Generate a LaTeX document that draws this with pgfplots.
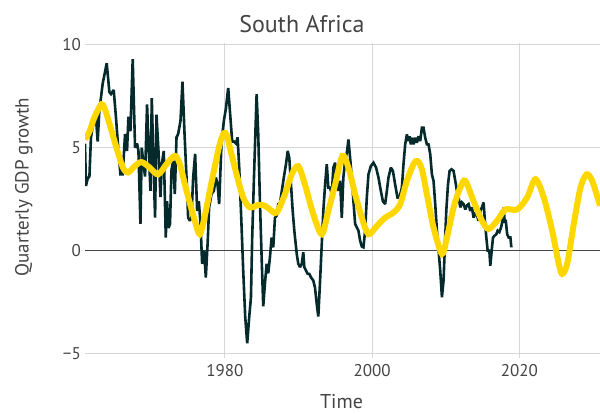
\documentclass[border=0pt]{standalone}
\usepackage{pgfplots}
\pgfplotsset{compat=1.18}
\usepackage{fontspec}
\setmainfont{PT Sans}
\definecolor{darkline}{HTML}{052A2C}
\definecolor{goldline}{HTML}{FFD700}
\definecolor{gridgray}{HTML}{D6D6D6}
\definecolor{txt}{HTML}{444444}
\begin{document}
\begin{tikzpicture}
\begin{axis}[
  name=main,
  scale only axis, width=515pt, height=315pt,
  xmin=1961, xmax=2030.95, ymin=-5.21, ymax=10.08,
  axis line style={draw=none},
  major tick length=0pt,
  xtick={1980,2000,2020}, xticklabels={1980,2000,2020},
  ytick={-5,5,10}, yticklabels={−5,5,10},
  extra y ticks={0}, extra y tick labels={0},
  extra y tick style={grid style={color=txt, line width=1.1pt}},
  grid=major, grid style={color=gridgray, line width=1.1pt},
  tick label style={font=\fontsize{17}{17}\selectfont, text=txt, inner sep=0pt},
  xticklabel style={anchor=north, yshift=-6.5pt},
  yticklabel style={anchor=east, xshift=-4pt},
  clip mode=individual,
]
\addplot[color=darkline, line width=2.6pt, line join=miter, miter limit=2] coordinates {
(1961.00,5.2) (1961.13,3.14) (1961.36,3.5) (1961.60,3.6) (1961.81,5.5) (1962.04,6.0) (1962.49,6.45) (1962.72,5.3) (1962.95,6.8) (1963.40,8.1) (1963.95,9.1) (1964.31,7.7) (1964.53,7.6) (1964.90,7.8) (1965.21,6.45) (1965.54,4.84) (1965.81,3.7) (1966.12,3.7) (1966.44,5.66) (1966.71,4.84) (1966.90,6.5) (1967.17,5.8) (1967.48,9.3) (1967.80,5.0) (1968.07,5.2) (1968.26,4.84) (1968.53,1.3) (1968.71,5.0) (1968.94,4.2) (1969.16,3.6) (1969.43,7.1) (1969.66,4.84) (1969.89,2.9) (1970.07,7.4) (1970.34,3.7) (1970.52,1.6) (1970.71,6.6) (1970.98,4.84) (1971.25,2.6) (1971.43,4.2) (1971.70,4.84) (1971.97,0.64) (1972.15,2.4) (1972.34,1.1) (1972.55,1.3) (1972.74,3.9) (1972.97,4.35) (1973.20,2.75) (1973.43,5.5) (1973.65,5.66) (1973.97,6.3) (1974.24,8.2) (1974.52,5.66) (1974.79,3.55) (1975.01,1.6) (1975.24,1.45) (1975.46,1.6) (1975.69,3.55) (1975.96,4.7) (1976.23,1.93) (1976.46,2.4) (1976.69,1.3) (1976.91,-0.64) (1977.18,0) (1977.41,-1.3) (1977.65,0.32) (1977.86,2.1) (1978.19,2.75) (1978.50,2.9) (1978.78,3.55) (1979.01,3.2) (1979.22,2.26) (1979.55,5.3) (1979.86,6.3) (1980.14,6.9) (1980.45,7.9) (1980.68,6.8) (1980.99,5.3) (1981.22,5.3) (1981.50,5.2) (1981.73,5.5) (1981.95,4.0) (1982.22,1.6) (1982.49,-0.97) (1982.76,-3.2) (1983.03,-4.5) (1983.31,-3.2) (1983.54,-2.26) (1983.71,0.64) (1983.95,3.55) (1984.31,7.6) (1984.53,5.66) (1984.76,2.4) (1984.99,-0.32) (1985.21,-2.7) (1985.44,-1.6) (1985.67,-0.64) (1985.89,-1.1) (1986.12,-0.32) (1986.35,0.64) (1986.57,0.16) (1986.80,1.6) (1987.03,1.7) (1987.25,2.26) (1987.48,2.3) (1987.80,3.06) (1988.07,3.7) (1988.30,4.2) (1988.53,4.84) (1988.75,4.5) (1988.98,3.2) (1989.21,1.93) (1989.43,0.97) (1989.76,-0.16) (1989.97,-0.64) (1990.20,-0.8) (1990.44,-0.64) (1990.65,-0.08) (1990.79,-0.8) (1991.02,-0.97) (1991.25,-1.13) (1991.47,-1.13) (1991.70,-1.3) (1992.01,-1.45) (1992.24,-1.8) (1992.48,-2.6) (1992.69,-3.2) (1992.93,-1.45) (1993.16,0.32) (1993.37,1.93) (1993.61,3.2) (1993.84,4.2) (1994.05,3.06) (1994.29,3.06) (1994.52,2.74) (1994.73,4.03) (1994.97,4.27) (1995.20,3.39) (1995.41,2.9) (1995.65,3.39) (1995.88,1.6) (1996.09,3.55) (1996.33,4.35) (1996.60,4.84) (1996.78,5.4) (1997.01,4.5) (1997.24,3.55) (1997.46,2.4) (1997.69,1.3) (1997.92,1.13) (1998.14,0.97) (1998.37,0.48) (1998.60,0.2) (1998.82,0.16) (1999.05,0.97) (1999.28,2.6) (1999.50,3.7) (1999.82,4.1) (2000.18,4.27) (2000.54,4.03) (2000.86,3.55) (2001.18,2.9) (2001.46,2.4) (2001.77,2.26) (2002.00,2.9) (2002.22,3.55) (2002.54,4.03) (2002.82,3.87) (2003.13,3.2) (2003.44,2.58) (2003.71,2.58) (2004.04,3.06) (2004.26,4.2) (2004.49,5.16) (2004.72,5.64) (2004.94,5.32) (2005.08,5.55) (2005.26,5.16) (2005.48,5.48) (2005.62,5.16) (2005.85,5.48) (2006.08,5.24) (2006.30,5.55) (2006.53,5.32) (2006.76,5.97) (2006.98,5.97) (2007.21,5.48) (2007.44,5.16) (2007.66,5.16) (2007.89,4.68) (2008.12,3.7) (2008.34,3.39) (2008.57,2.26) (2008.80,0.97) (2009.03,0) (2009.25,-0.97) (2009.48,-2.26) (2009.70,-1.45) (2009.89,0.32) (2010.07,1.93) (2010.30,3.2) (2010.52,3.87) (2010.79,3.95) (2011.06,3.87) (2011.29,3.39) (2011.52,2.9) (2011.75,2.58) (2011.97,2.1) (2012.20,2.34) (2012.42,2.26) (2012.65,2.0) (2012.88,2.2) (2013.10,2.26) (2013.33,1.93) (2013.56,2.1) (2013.78,1.6) (2014.01,1.85) (2014.24,1.7) (2014.46,1.45) (2014.69,1.93) (2014.92,2.1) (2015.14,2.34) (2015.28,1.6) (2015.51,0.64) (2015.69,0) (2015.92,0) (2016.05,-0.73) (2016.28,0.16) (2016.42,0.64) (2016.64,0.73) (2016.87,0.8) (2017.05,0.97) (2017.28,0.9) (2017.51,1.13) (2017.65,1.35) (2017.87,2.1) (2018.01,1.35) (2018.14,1.5) (2018.34,0.8) (2018.54,0.64) (2018.78,0.64) (2018.91,0.16)
};
\addplot[color=goldline, line width=6pt, smooth, tension=0.5] coordinates {
(1961.00,5.4) (1961.63,5.8) (1962.31,6.5) (1963.22,7.1) (1963.67,6.9) (1964.35,6.13) (1965.27,5.0) (1966.16,4.03) (1966.84,3.8) (1967.76,4.1) (1968.67,4.3) (1969.80,4.03) (1970.93,3.7) (1972.07,4.2) (1973.20,4.6) (1973.88,4.2) (1974.79,2.9) (1975.92,1.45) (1976.60,0.8) (1977.28,1.7) (1977.96,2.9) (1978.64,4.1) (1979.32,5.2) (1979.86,5.7) (1980.27,5.6) (1980.68,5.0) (1981.59,3.7) (1982.49,2.58) (1983.40,2.1) (1984.53,2.22) (1985.44,2.18) (1986.12,2.0) (1987.03,1.85) (1988.16,2.74) (1989.07,3.7) (1989.97,4.1) (1990.88,3.2) (1992.01,1.77) (1993.16,0.8) (1994.05,1.93) (1994.97,3.2) (1995.96,4.6) (1996.78,4.03) (1997.69,2.74) (1998.60,1.6) (1999.50,0.8) (2000.64,1.2) (2001.77,1.6) (2002.90,1.85) (2003.81,2.26) (2004.72,3.39) (2005.62,4.2) (2006.16,4.35) (2006.76,3.95) (2007.44,2.74) (2008.34,1.13) (2009.48,-0.16) (2010.16,0.64) (2011.06,2.1) (2011.97,3.06) (2012.65,3.39) (2013.78,2.4) (2014.92,1.45) (2015.82,1.05) (2016.97,1.45) (2018.10,2.0) (2019.69,2.0) (2021.05,2.58) (2022.18,3.47) (2023.31,2.58) (2024.45,0.97) (2025.35,-0.64) (2025.81,-1.13) (2026.49,-0.64) (2027.39,1.3) (2028.30,3.06) (2029.12,3.7) (2029.89,3.39) (2030.95,2.18)
};
\end{axis}
\node[font=\fontsize{24}{24}\selectfont, text=txt, anchor=center] at (217pt,334pt) {South Africa};
\node[font=\fontsize{20}{20}\selectfont, text=txt, anchor=center, inner sep=1pt] at (256.5pt,-44pt) {Time};
\node[font=\fontsize{19}{19}\selectfont, text=txt, anchor=center, rotate=90] at (-61pt,171pt) {Quarterly GDP growth};
\pgfresetboundingbox
\path[use as bounding box] (-85pt,-56pt) rectangle (515pt,358pt);
\end{tikzpicture}
\end{document}
